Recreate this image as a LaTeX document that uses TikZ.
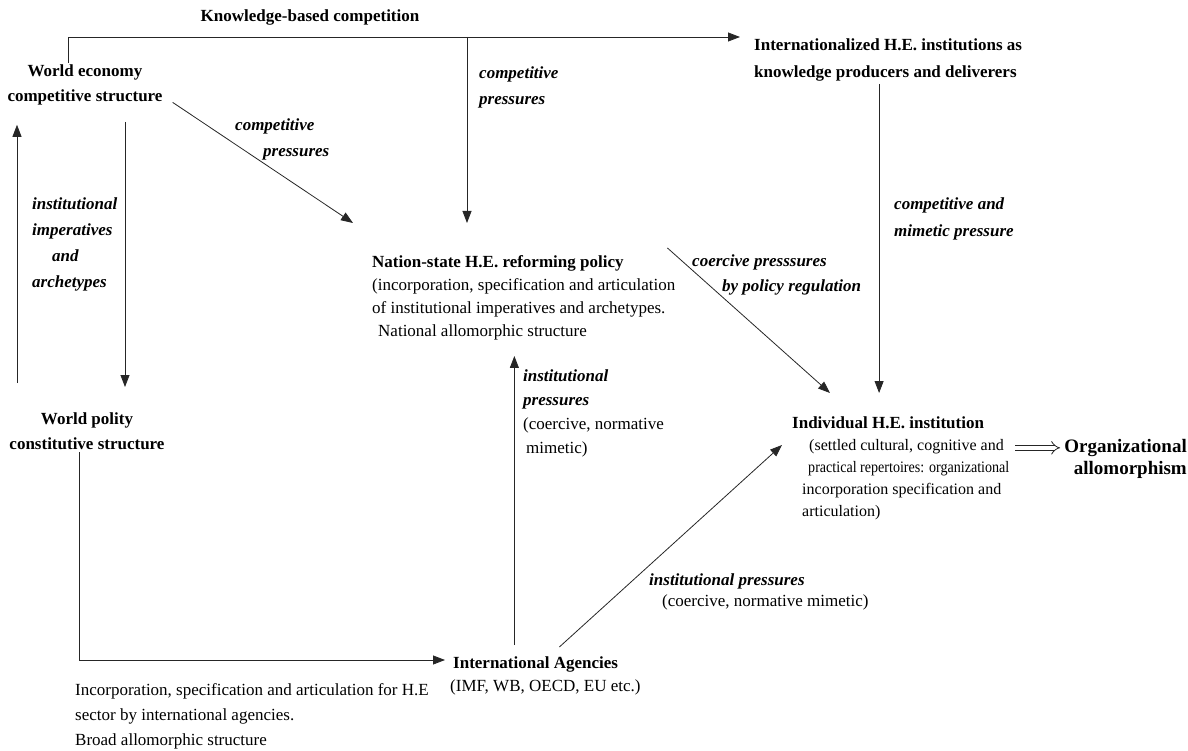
\documentclass[tikz,border=0pt]{standalone}
\usepackage{fontspec}
\setmainfont{Liberation Serif}
\usetikzlibrary{arrows.meta,positioning}

\tikzset{
  txt/.style={align=left, inner sep=2pt, font=\fontsize{17}{23}\selectfont},
  ctr/.style={txt, align=center, font=\fontsize{17}{25}\selectfont\bfseries},
  lbl/.style={txt, font=\fontsize{17}{26}\selectfont\bfseries\itshape},
  conn/.style={draw=black!85, line width=0.8pt, -{Triangle[length=12pt,width=9pt]}},
  imp/.style={draw=black!85, double, double distance=4pt, line width=0.8pt, -{Implies[scale=1.4]}},
}

\begin{document}
\begin{tikzpicture}[x=1pt, y=-1pt]
  \useasboundingbox (0,0) rectangle (1188,751);

  % structures and actors
  \node[ctr, anchor=north] (econ) at (85,63) {World economy\\competitive structure};
  \node[ctr, anchor=north] (polity) at (87,411) {World polity\\constitutive structure};
  \node[txt, anchor=north west, font=\fontsize{17}{27}\selectfont\bfseries] (intl) at (752,37)
    {Internationalized H.E. institutions as\\knowledge producers and deliverers};
  \node[txt, anchor=north west] (nation) at (370,253)
    {\textbf{Nation-state H.E. reforming policy}\\(incorporation, specification and articulation\\of institutional imperatives and archetypes.\\\hspace*{6pt}National allomorphic structure};
  \node[txt, anchor=north west, font=\fontsize{16}{22}\selectfont] (indiv) at (790,415)
    {{\fontsize{17}{22}\selectfont\bfseries Individual H.E. institution}\\\hspace*{17pt}(settled cultural, cognitive and\\\hspace*{16pt}\scalebox{0.88}[1]{practical repertoires: organizational}\\\hspace*{10pt}incorporation specification and\\\hspace*{10pt}articulation)};
  \node[txt, anchor=north east, align=right, font=\fontsize{19}{22}\selectfont\bfseries] (org) at (1189,437)
    {Organizational\\allomorphism};
  \node[txt, anchor=north west] (agencies) at (448,654)
    {\hspace*{3pt}\textbf{International Agencies}\\(IMF, WB, OECD, EU etc.)};
  \node[txt, anchor=north west, font=\fontsize{17}{25}\selectfont] (sector) at (73,681)
    {Incorporation, specification and articulation for H.E\\sector by international agencies.\\Broad allomorphic structure};

  % labels
  \node[ctr] (kbc) at (310,17) {Knowledge-based competition};
  \node[lbl, anchor=north west] (lblLeft) at (30,196) {institutional\\imperatives\\\hspace*{20pt}and\\archetypes};
  \node[lbl, anchor=north west] (lblEcon) at (233,117) {competitive\\\hspace*{28pt}pressures};
  \node[lbl, anchor=north west] (lblTop) at (477,65) {competitive\\pressures};
  \node[lbl, anchor=north west, font=\fontsize{17}{25}\selectfont\bfseries\itshape] (lblCoerc) at (690,253)
    {coercive presssures\\\hspace*{30pt}by policy regulation};
  \node[lbl, anchor=north west, font=\fontsize{17}{27}\selectfont\bfseries\itshape] (lblIntl) at (892,196)
    {competitive and\\mimetic pressure};
  \node[txt, anchor=north west, font=\fontsize{17}{24}\selectfont] (lblInst) at (521,368)
    {\textbf{\textit{institutional}}\\\textbf{\textit{pressures}}\\(coercive, normative\\\hspace*{3pt}mimetic)};
  \node[txt, anchor=north west, font=\fontsize{17}{21}\selectfont] (lblAg) at (647,572)
    {\textbf{\textit{institutional pressures}}\\\hspace*{13pt}(coercive, normative mimetic)};

  % connectors
  \coordinate (split) at (467,37);
  \draw[conn] ([xshift=-17pt]econ.north) |- ([xshift=-12pt]intl.north west);
  \draw[conn, shorten >=30pt] (split) -- (split |- nation.north);
  \draw[conn] ([shift={(8pt,-17pt)}]econ.east) -- ([shift={(-17pt,30pt)}]nation.north west);
  \draw[conn] ([shift={(-10pt,5pt)}]nation.north east) -- ([shift={(40pt,22pt)}]indiv.north west);
  \coordinate (dropR) at ([xshift=-9pt]intl.south);
  \draw[conn, shorten >=22pt] (dropR) -- (dropR |- indiv.north);
  \draw[conn] ([shift={(14pt,7pt)}]agencies.north) -- ([shift={(-8pt,-30pt)}]indiv.north west);
  \coordinate (upM) at ([xshift=-31pt]agencies.north);
  \draw[conn, shorten <=9pt, shorten >=14pt] (upM) -- (upM |- nation.south);
  \draw[conn] ([xshift=-8pt]polity.south) |- ([shift={(-3pt,-6pt)}]agencies.north west);
  \draw[conn, shorten <=28pt, shorten >=17pt] ([xshift=-70pt]polity.north) -- ([xshift=-68pt]econ.south);
  \draw[conn, shorten <=14pt, shorten >=24pt] ([xshift=40pt]econ.south) -- ([xshift=38pt]polity.north);
  \draw[imp] ([shift={(4pt,11pt)}]org.west -| indiv.east) -- ([shift={(-2pt,11pt)}]org.west);
\end{tikzpicture}
\end{document}
